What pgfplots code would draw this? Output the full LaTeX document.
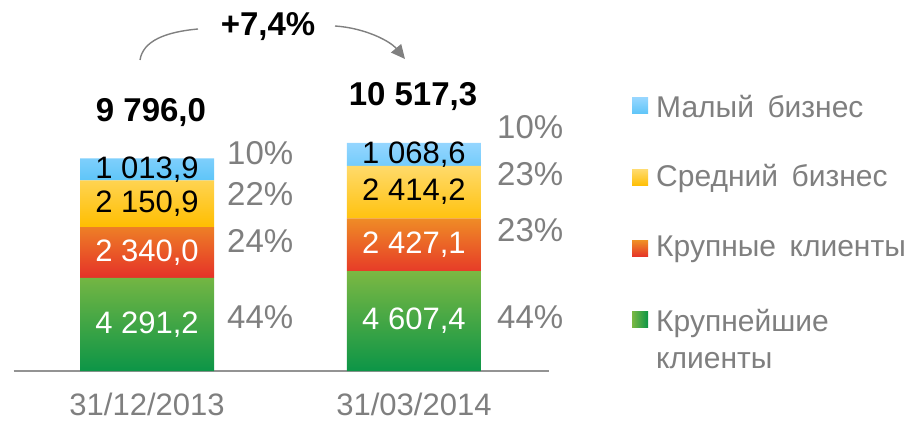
\documentclass[border=0pt]{standalone}
\usepackage{pgfplots}
\pgfplotsset{compat=1.18}
\usepackage{pgfplotstable}
\usepackage{fontspec}
\setmainfont{Liberation Sans}
\usetikzlibrary{arrows.meta}
\definecolor{txtgray}{HTML}{7F7F7F}
\definecolor{blueT}{HTML}{95D6FF}
\definecolor{blueB}{HTML}{5EC5F8}
\definecolor{yelT}{HTML}{FFDA6A}
\definecolor{yelB}{HTML}{FFBE00}
\definecolor{redT}{HTML}{EF8C26}
\definecolor{redB}{HTML}{E53128}
\definecolor{grnT}{HTML}{7BB843}
\definecolor{grnB}{HTML}{0C9547}
\pgfplotstableread{
x a b c d
0 4291.2 2340.0 2150.9 1013.9
1 4607.4 2427.1 2414.2 1068.6
}\datatable
\newcommand{\fs}[1]{\fontsize{#1}{#1}\selectfont}
\begin{document}
\begin{tikzpicture}[x=1pt,y=1pt]
\path[use as bounding box] (0,0) rectangle (914,421);
\begin{axis}[
  at={(13.6pt,50pt)}, anchor=south west,
  scale only axis, width=535.4pt, height=260.4pt,
  xmin=-0.5, xmax=1.506, ymin=0, ymax=12000,
  ybar stacked, bar width=134pt,
  axis x line*=bottom, hide y axis,
  axis line style={draw=gray!85, line width=1.6pt, -},
  xtick={0,1}, xticklabels={31/12/2013,31/03/2014},
  major tick length=0pt,
  xticklabel style={text=txtgray, font=\fs{31}, inner sep=0pt, yshift=-22pt},
  clip=false,
]
\addplot[draw=none, top color=grnT, bottom color=grnB] table[x=x,y=a]{\datatable};
\addplot[draw=none, top color=redT, bottom color=redB] table[x=x,y=b]{\datatable};
\addplot[draw=none, top color=yelT, bottom color=yelB] table[x=x,y=c]{\datatable};
\addplot[draw=none, top color=blueT, bottom color=blueB] table[x=x,y=d]{\datatable};
\coordinate (a0) at (axis cs:0,2145.6);
\coordinate (b0) at (axis cs:0,5461.2);
\coordinate (c0) at (axis cs:0,7706.65);
\coordinate (d0) at (axis cs:0,9289.05);
\coordinate (a1) at (axis cs:1,2303.7);
\coordinate (b1) at (axis cs:1,5820.95);
\coordinate (c1) at (axis cs:1,8241.6);
\coordinate (d1) at (axis cs:1,9983);
\end{axis}
% segment labels
\node[white, font=\fs{31}] at (a0) {4 291,2};
\node[white, font=\fs{31}] at (b0) {2 340,0};
\node[black, font=\fs{31}] at (c0) {2 150,9};
\node[black, font=\fs{31}] at (d0) {1 013,9};
\node[white, font=\fs{31}] at (a1) {4 607,4};
\node[white, font=\fs{31}] at (b1) {2 427,1};
\node[black, font=\fs{31}] at (c1) {2 414,2};
\node[black, font=\fs{31}] at (d1) {1 068,6};
% totals
\node[font=\bfseries\fs{33}] at (151,308) {9 796,0};
\node[font=\bfseries\fs{33}] at (413,324) {10 517,3};
% percentages
\begin{scope}[every node/.style={text=txtgray, font=\fs{33}, anchor=west, inner sep=0pt}]
\node at (227,268) {10\%};
\node at (227,227) {22\%};
\node at (227,180) {24\%};
\node at (227,104) {44\%};
\node at (497,294) {10\%};
\node at (497,247) {23\%};
\node at (497,191) {23\%};
\node at (497,104) {44\%};
\end{scope}
% growth arrow
\node[font=\bfseries\fs{33}] at (268,394) {+7,4\%};
\draw[gray, line width=1.4pt] (140,361) .. controls (143,380) and (165,389) .. (198,392);
\draw[gray, line width=1.4pt, -{Triangle[length=14pt,width=13pt]}] (335,395) .. controls (365,393) and (390,380) .. (405,362);
% legend
\begin{scope}[every node/.style={text=txtgray, font=\fs{30}, anchor=west, inner sep=0pt}]
\shade[top color=blueT, bottom color=blueB] (632,307) rectangle (648,323);
\node at (656,314) {Малый\hspace{0.45em}бизнес};
\shade[top color=yelT, bottom color=yelB] (632,235) rectangle (648,251);
\node at (656,243) {Средний\hspace{0.45em}бизнес};
\shade[top color=redT, bottom color=redB] (632,164) rectangle (648,180);
\node at (656,172) {Крупные\hspace{0.45em}клиенты};
\shade[left color=grnT, right color=grnB] (632,93) rectangle (648,109);
\node[align=left, anchor=north west, font=\fontsize{30}{37}\selectfont] at (656,112) {Крупнейшие\\клиенты};
\end{scope}
\end{tikzpicture}
\end{document}
